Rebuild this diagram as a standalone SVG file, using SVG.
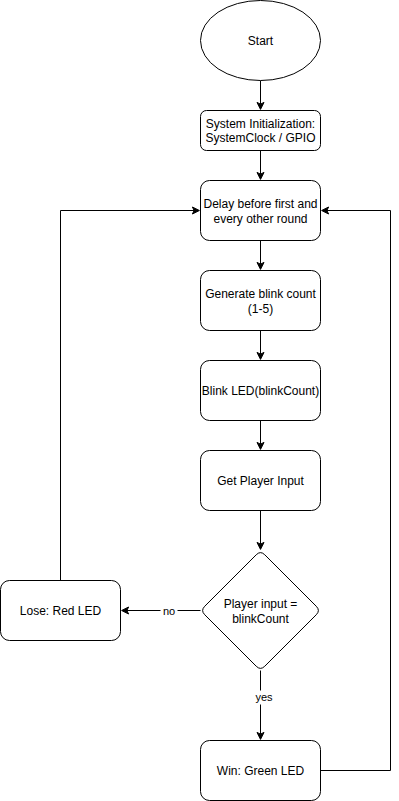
<svg xmlns="http://www.w3.org/2000/svg" width="399" height="801" viewBox="0 0 399 801">
  <style>
    .shape { fill: #ffffff; stroke: #000000; stroke-width: 1; }
    .edge { fill: none; stroke: #000000; stroke-width: 1; }
    .head { fill: #000000; stroke: #000000; stroke-width: 1; }
    .label { font-family: "Liberation Sans", Arial, Helvetica, sans-serif; font-size: 12px; fill: #000000; text-anchor: middle; }
    .elabel { font-family: "Liberation Sans", Arial, Helvetica, sans-serif; font-size: 11px; fill: #000000; text-anchor: middle; }
  </style>
  <rect x="0" y="0" width="399" height="801" fill="#ffffff"/>
  <g transform="translate(0.5 0.5)">
    <!-- connectors -->
    <g id="connectors">
      <!-- start -> init -->
      <path class="edge" d="M 260 80 L 260 103.63"/>
      <path class="head" d="M 260 108.88 L 256.5 101.88 L 260 103.63 L 263.5 101.88 Z"/>
      <!-- init -> delay -->
      <path class="edge" d="M 260 150 L 260 173.63"/>
      <path class="head" d="M 260 178.88 L 256.5 171.88 L 260 173.63 L 263.5 171.88 Z"/>
      <!-- delay -> generate -->
      <path class="edge" d="M 260 240 L 260 263.63"/>
      <path class="head" d="M 260 268.88 L 256.5 261.88 L 260 263.63 L 263.5 261.88 Z"/>
      <!-- generate -> blink -->
      <path class="edge" d="M 260 330 L 260 353.63"/>
      <path class="head" d="M 260 358.88 L 256.5 351.88 L 260 353.63 L 263.5 351.88 Z"/>
      <!-- blink -> input -->
      <path class="edge" d="M 260 420 L 260 443.63"/>
      <path class="head" d="M 260 448.88 L 256.5 441.88 L 260 443.63 L 263.5 441.88 Z"/>
      <!-- input -> decision -->
      <path class="edge" d="M 260 510 L 260 543.63"/>
      <path class="head" d="M 260 548.88 L 256.5 541.88 L 260 543.63 L 263.5 541.88 Z"/>
      <!-- decision -> lose (no) -->
      <path class="edge" d="M 200 610 L 126.37 610"/>
      <path class="head" d="M 121.12 610 L 128.12 606.5 L 126.37 610 L 128.12 613.5 Z"/>
      <rect x="160" y="603" width="17" height="14" fill="#ffffff"/>
      <text class="elabel" x="168.5" y="614.5">no</text>
      <!-- decision -> win (yes) -->
      <path class="edge" d="M 260 670 L 260 733.63"/>
      <path class="head" d="M 260 738.88 L 256.5 731.88 L 260 733.63 L 263.5 731.88 Z"/>
      <rect x="253" y="690" width="21" height="14" fill="#ffffff"/>
      <text class="elabel" x="263.5" y="700.5">yes</text>
      <!-- win -> delay (loop back) -->
      <path class="edge" d="M 320 770 L 390 770 L 390 210 L 326.37 210"/>
      <path class="head" d="M 321.12 210 L 328.12 206.5 L 326.37 210 L 328.12 213.5 Z"/>
      <!-- lose -> delay (loop back) -->
      <path class="edge" d="M 60 580 L 60 210 L 193.63 210"/>
      <path class="head" d="M 198.88 210 L 191.88 213.5 L 193.63 210 L 191.88 206.5 Z"/>
    </g>

    <g id="start">
      <ellipse class="shape" cx="260" cy="40" rx="60" ry="40"/>
      <text class="label" x="260" y="44">Start</text>
    </g>

    <g id="init">
      <rect class="shape" x="200" y="110" width="120" height="40" rx="6" ry="6"/>
      <text class="label" x="260" y="127">System Initialization:</text>
      <text class="label" x="260" y="141">SystemClock / GPIO</text>
    </g>

    <g id="delay">
      <rect class="shape" x="200" y="180" width="120" height="60" rx="9" ry="9"/>
      <text class="label" x="260" y="207">Delay before first and</text>
      <text class="label" x="260" y="222">every other round</text>
    </g>

    <g id="generate">
      <rect class="shape" x="200" y="270" width="120" height="60" rx="9" ry="9"/>
      <text class="label" x="260" y="297">Generate blink count</text>
      <text class="label" x="260" y="312">(1-5)</text>
    </g>

    <g id="blink">
      <rect class="shape" x="200" y="360" width="120" height="60" rx="9" ry="9"/>
      <text class="label" x="260" y="394">Blink LED(blinkCount)</text>
    </g>

    <g id="input">
      <rect class="shape" x="200" y="450" width="120" height="60" rx="9" ry="9"/>
      <text class="label" x="260" y="484">Get Player Input</text>
    </g>

    <g id="decision">
      <path class="shape" d="M 255.76 554.24 Q 260 550 264.24 554.24 L 315.76 605.76 Q 320 610 315.76 614.24 L 264.24 665.76 Q 260 670 255.76 665.76 L 204.24 614.24 Q 200 610 204.24 605.76 Z"/>
      <text class="label" x="260" y="607">Player input =</text>
      <text class="label" x="260" y="622">blinkCount</text>
    </g>

    <g id="lose">
      <rect class="shape" x="0" y="580" width="120" height="60" rx="9" ry="9"/>
      <text class="label" x="60" y="614">Lose: Red LED</text>
    </g>

    <g id="win">
      <rect class="shape" x="200" y="740" width="120" height="60" rx="9" ry="9"/>
      <text class="label" x="260" y="774">Win: Green LED</text>
    </g>
  </g>
</svg>
